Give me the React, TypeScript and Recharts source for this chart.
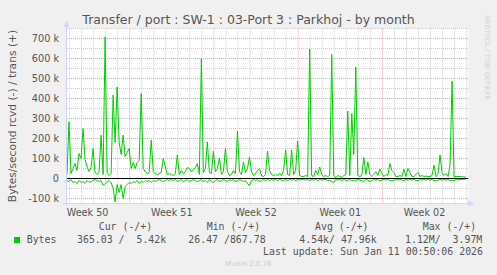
import React from 'react';
import { ComposedChart, Line, XAxis, YAxis, ReferenceLine, CartesianGrid } from 'recharts';

// One sample every 4 hours, values in kB/s
const STEP_HOURS = 4;

const transA = [20, 283, 25, 50, 75, 40, 125, 100, 250, 95, 60, 35, 55, 150, 30, 20, 35, 217, 20, 708, 30, 15, 25, 417, 180, 458, 180, 120, 217, 110, 130, 150, 50, 80, 50, 80, 90, 425, 50, 35, 25, 30, 192, 35, 25, 20, 25, 30, 100, 60, 20];
const transB = [25, 20, 15, 25, 117, 20, 40, 25, 35, 55, 50, 35, 45, 55, 75, 20, 600, 30, 50, 183, 30, 25, 137, 35, 50, 103, 20, 35, 150, 35, 15, 20, 40, 25, 237, 35, 20, 83, 30, 50, 108, 35, 15, 25, 40, 50, 15, 10, 20, 137];
const transC = [40, 20, 15, 20, 15, 25, 15, 40, 143, 20, 15, 142, 20, 40, 187, 15, 10, 10, 15, 10, 647, 15, 10, 40, 20, 57, 20, 10, 15, 10, 15, 620, 15, 5, 15, 10, 5, 15, 20, 337, 15, 325, 120, 558, 15, 10, 15, 105, 20, 83];
const transD = [20, 10, 20, 33, 15, 47, 25, 10, 20, 15, 75, 40, 30, 10, 10, 15, 10, 47, 10, 50, 30, 10, 10, 20, 30, 10, 15, 10, 12, 10, 10, 15, 67, 10, 20, 117, 30, 15, 25, 10, 67, 487, 10, 10, 10, 10, 8, 8, 5];

const rcvdA = [10, 15, 5, 20, 15, 25, 10, 20, 15, 25, 10, 20, 15, 10, 5, 10, 15, 10, 35, 25, 15, 10, 20, 50, 117, 30, 70, 30, 100, 40, 30, 20, 25, 15, 20, 10, 25, 15, 20, 10, 15, 10, 20, 10, 15, 10, 5, 10, 15, 10, 5];
const rcvdB = [10, 5, 10, 5, 15, 10, 5, 15, 10, 5, 15, 10, 5, 10, 15, 10, 5, 15, 10, 20, 5, 15, 20, 10, 5, 15, 10, 5, 10, 15, 5, 10, 5, 15, 10, 5, 10, 15, 10, 25, 35, 10, 5, 10, 5, 15, 10, 5, 10, 5];
const rcvdC = [10, 5, 8, 5, 10, 5, 8, 10, 5, 10, 5, 8, 5, 10, 5, 8, 5, 5, 8, 5, 10, 5, 8, 5, 10, 5, 8, 5, 5, 10, 8, 15, 20, 5, 8, 5, 10, 5, 8, 10, 5, 10, 8, 10, 5, 8, 10, 15, 5, 8];
const rcvdD = [15, 10, 5, 8, 5, 12, 8, 5, 8, 5, 10, 12, 8, 5, 8, 5, 8, 10, 5, 8, 5, 8, 5, 10, 12, 5, 8, 5, 8, 5, 8, 5, 10, 12, 8, 5, 8, 5, 8, 5, 10, 8, 12, 5, 8, 5, 5, 3, 3];

const weekLabels = ['Week 50', 'Week 51', 'Week 52', 'Week 01', 'Week 02'];
const firstWeekStart = 5.21; // day offset of Monday of Week 51
const firstDayLine = 0.21;
const xMax = 33.35;
const yTicks = [-100000, 0, 100000, 200000, 300000, 400000, 500000, 600000, 700000];
const yMin = -125000;
const yMax = 750000;

const legendHeaders = ['Cur (-/+)', 'Min (-/+)', 'Avg (-/+)', 'Max (-/+)'];
const legendValues = ['365.03 /  5.42k', '26.47 /867.78', '4.54k/ 47.96k', '1.12M/  3.97M'];

const trans = [...transA, ...transB, ...transC, ...transD];
const rcvd = [...rcvdA, ...rcvdB, ...rcvdC, ...rcvdD];
const data = trans.map((t, i) => ({
  day: (i * STEP_HOURS) / 24,
  trans: t * 1000,
  rcvd: -rcvd[i] * 1000,
}));

const weekCenters = weekLabels.map((_, k) => firstWeekStart - 3.5 + 7 * k);
const weekStarts = [0, 1, 2, 3].map((k) => firstWeekStart + 7 * k);
const dayLines: number[] = [];
for (let d = firstDayLine; d < xMax; d += 1) {
  if (!weekStarts.some((w) => Math.abs(w - d) < 0.01)) dayLines.push(d);
}
const hLines: number[] = [];
for (let v = -100000; v <= 750000; v += 50000) hLines.push(v);

const MAJOR = '#f0a3a3';
const MINOR = '#cccccc';
const AXIS = '#CFD6F8';
const FONT = '#555555';

const nb = (s: string) => s.replace(/ /g, '\u00a0');
const fmtY = (v: number) => (v === 0 ? '0' : `${v / 1000} k`);
const fmtX = (v: number) => weekLabels[Math.round((v - weekCenters[0]) / 7)] ?? '';

const headerX = [98.7, 206.7, 315, 422.7];
const valueX = [77, 188.3, 299.3, 405];

export default function App() {
  return (
    <div style={{ position: 'absolute', left: 0, top: 0, width: 497, height: 275, background: '#f0f0f0', overflow: 'hidden' }}>
      <ComposedChart
        width={497}
        height={275}
        data={data}
        margin={{ top: 28.5, right: 28.7, bottom: 51.5, left: 0 }}
      >
        <CartesianGrid fill="#ffffff" horizontal={false} vertical={false} stroke="none" />
        <XAxis
          dataKey="day"
          type="number"
          domain={[0, xMax]}
          allowDataOverflow
          ticks={weekCenters}
          tickFormatter={fmtX}
          height={20}
          axisLine={false}
          tickLine={false}
          tickSize={0}
          tickMargin={6}
          interval={0}
          tick={{ fill: FONT, fontSize: 9.6, fontFamily: 'DejaVu Sans' }}
        />
        <YAxis
          type="number"
          domain={[yMin, yMax]}
          allowDataOverflow
          ticks={yTicks}
          tickFormatter={fmtY}
          width={67}
          axisLine={false}
          tickLine={false}
          tickSize={0}
          tickMargin={8}
          interval={0}
          tick={{ fill: FONT, fontSize: 9.7, fontFamily: 'DejaVu Sans' }}
        />
        {hLines.map((v) => (
          <ReferenceLine
            key={`h${v}`}
            y={v}
            stroke={v % 100000 === 0 ? MAJOR : MINOR}
            strokeWidth={1}
            strokeDasharray="1 1"
          />
        ))}
        {dayLines.map((d) => (
          <ReferenceLine key={`d${d}`} x={d} stroke={MINOR} strokeWidth={1} strokeDasharray="1 1" />
        ))}
        {weekStarts.map((d) => (
          <ReferenceLine key={`w${d}`} x={d} stroke={MAJOR} strokeWidth={1} strokeDasharray="1 1" />
        ))}
        <Line dataKey="rcvd" type="linear" stroke="#00cc00" strokeWidth={1} dot={false} activeDot={false} isAnimationActive={false} />
        <Line dataKey="trans" type="linear" stroke="#00cc00" strokeWidth={1} dot={false} activeDot={false} isAnimationActive={false} />
        <ReferenceLine y={0} stroke="#000000" strokeWidth={1} />
      </ComposedChart>
      <svg
        width={497}
        height={275}
        style={{ position: 'absolute', left: 0, top: 0, pointerEvents: 'none' }}
      >
        {/* axes with arrows */}
        <line x1={66.5} y1={206} x2={66.5} y2={25} stroke={AXIS} strokeWidth={1} />
        <polygon points="63.5,27 69.5,27 66.5,20.5" fill={AXIS} />
        <line x1={63} y1={203.5} x2={469} y2={203.5} stroke={AXIS} strokeWidth={1} />
        <polygon points="468,200.5 468,206.5 474,203.5" fill={AXIS} />

        <text x={248.5} y={24} textAnchor="middle" fill={FONT} fontSize={12.5} fontFamily="DejaVu Sans">
          Transfer / port : SW-1 : 03-Port 3 : Parkhoj - by month
        </text>
        <text
          x={15.5}
          y={116}
          textAnchor="middle"
          fill={FONT}
          fontSize={10.7}
          fontFamily="DejaVu Sans"
          transform="rotate(-90 15.5 116)"
        >
          Bytes/second rcvd (-) / trans (+)
        </text>
        <text
          x={485}
          y={15}
          fill="#cfcfcf"
          fontSize={6.6}
          fontFamily="DejaVu Sans"
          transform="rotate(90 485 15)"
        >
          RRDTOOL / TOBI OETIKER
        </text>

        <g fill={FONT} fontSize={9.9} fontFamily="DejaVu Sans Mono">
          {legendHeaders.map((h, k) => (
            <text key={h} x={headerX[k]} y={230}>{nb(h)}</text>
          ))}
          <text x={26.7} y={243}>Bytes</text>
          {legendValues.map((v, k) => (
            <text key={v} x={valueX[k]} y={243}>{nb(v)}</text>
          ))}
          <text x={483} y={255} textAnchor="end">{nb('Last update: Sun Jan 11 00:50:06 2026')}</text>
        </g>
        <rect x={14} y={237} width={6} height={6} fill="#00cc00" />
        <text x={248.5} y={266} textAnchor="middle" fill="#cccccc" fontSize={7} fontFamily="DejaVu Sans">
          Munin 2.0.76
        </text>
      </svg>
    </div>
  );
}
